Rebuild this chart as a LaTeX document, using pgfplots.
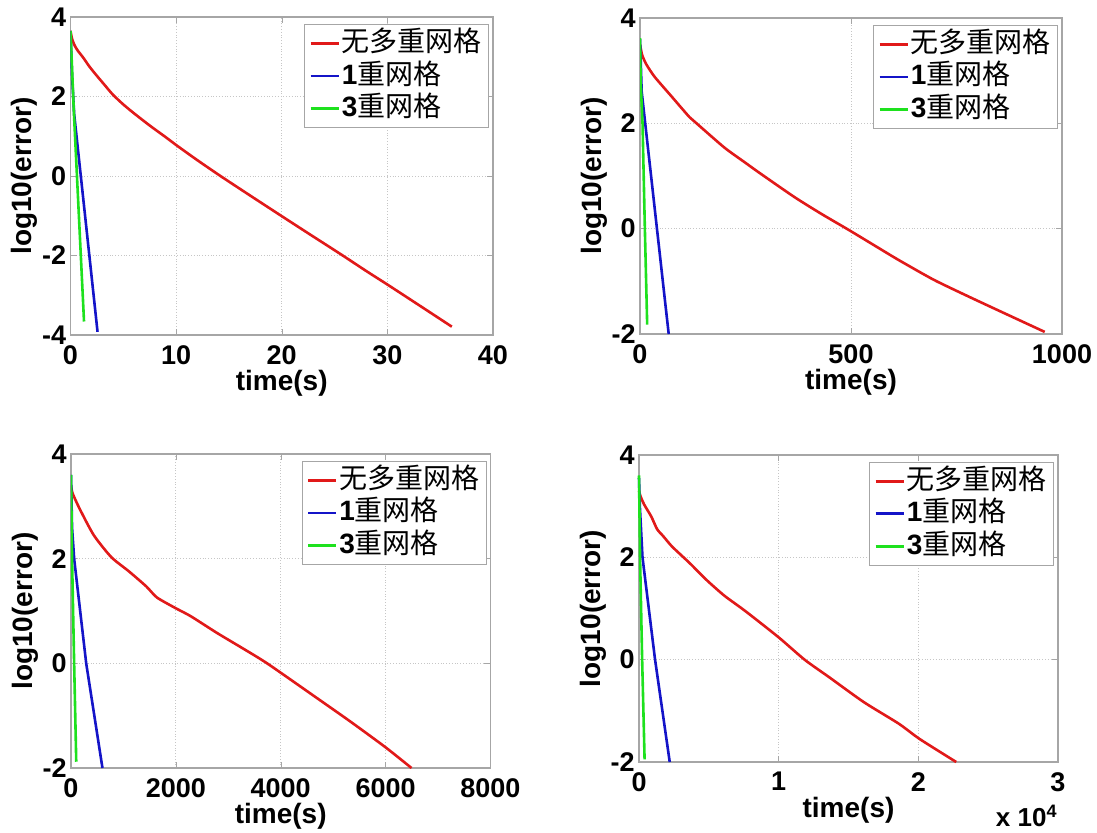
\documentclass[border=0pt]{standalone}
\usepackage{fontspec}
\setmainfont{Liberation Sans}
\newfontfamily\cjk{Noto Sans CJK SC}
\usepackage{pgfplots}
\pgfplotsset{compat=1.18}

\definecolor{mred}{RGB}{225,25,25}
\definecolor{mblue}{RGB}{20,20,200}
\definecolor{mgreen}{RGB}{30,225,30}

\pgfplotsset{
 sub/.style={
  scale only axis, anchor=south west, scaled x ticks=false, scaled y ticks=false,
  axis line style={gray!70, line width=0.6pt},
  grid=major, major grid style={gray!45, densely dotted, line width=0.5pt},
  tick align=inside, major tick length=3pt, tick style={gray!70},
  tick label style={font=\fontsize{13.5}{13.5}\selectfont\bfseries},
  yticklabel style={inner sep=1pt, xshift=-1pt},
  xticklabel style={inner sep=0pt, yshift=-5pt},
  every axis x label/.style={at={(axis description cs:0.5,0)}, anchor=north, yshift=-17.5pt, inner sep=0pt, font=\fontsize{14}{14}\selectfont\bfseries},
  every axis y label/.style={at={(axis description cs:-0.109,0.5)}, anchor=center, rotate=90, inner sep=0pt, font=\fontsize{14}{14}\selectfont\bfseries},
  xlabel={time(s)}, ylabel={log10(error)},
  legend style={at={(rel axis cs:0.9905,0.978)}, anchor=north east, draw=gray!70, line width=0.5pt,
    font=\fontsize{14}{14}\selectfont, inner xsep=2.3pt, inner ysep=1.5pt, row sep=0.25pt,
    nodes={inner xsep=1pt, inner ysep=1.5pt, text height=10.5pt, text depth=2.5pt},
    cells={anchor=west}},
  legend image code/.code={\draw[#1, line width=1.3pt] (0pt,0pt) -- (14pt,0pt);},
  every axis plot/.append style={line width=1.3pt},
 }
}

\begin{document}
\begin{tikzpicture}
\path[use as bounding box] (0,0) rectangle (548.5pt,-416pt);

% ---------- plot 1 ----------
\begin{axis}[sub, at={(35.25pt,-167.5pt)}, width=211.25pt, height=159pt,
  xmin=0, xmax=40, ymin=-4, ymax=4,
  xtick={0,10,20,30,40}, xticklabels={0,10,20,30,40},
  ytick={-4,-2,0,2,4}, yticklabels={-4,-2,0,2,4}]
\addplot[mred, smooth, tension=0.4] coordinates {(0,3.65)(0.15,3.45)(0.4,3.28)(0.7,3.15)(1.2,2.98)(1.8,2.75)(2.5,2.52)(3.2,2.3)(4,2.05)(5,1.8)(6,1.58)(7.5,1.27)(9,0.98)(10,0.78)(12,0.4)(14.2,0.0)(17,-0.49)(20,-1.01)(22.5,-1.44)(25.6,-1.97)(28,-2.39)(30,-2.73)(33,-3.25)(36.1,-3.79)};
\addplot[mblue] coordinates {(0,3.65)(0.15,2.5)(0.35,1.55)(2.56,-3.92)};
\addplot[mgreen] coordinates {(0,3.65)(0.32,1.6)(1.28,-3.66)};
\legend{{\cjk 无多重网格},{\bfseries 1}{\cjk 重网格},{\bfseries 3}{\cjk 重网格}}
\end{axis}

% ---------- plot 2 ----------
\begin{axis}[sub, at={(320pt,-167pt)}, width=211pt, height=158pt,
  xmin=0, xmax=1000, ymin=-2, ymax=4,
  xtick={0,500,1000}, xticklabels={0,500,1000},
  ytick={-2,0,2,4}, yticklabels={-2,0,2,4}]
\addplot[mred, smooth, tension=0.4] coordinates {(0,3.5)(5,3.3)(15,3.12)(35,2.88)(76,2.5)(117,2.12)(134,2.0)(200,1.54)(250,1.25)(283,1.06)(366,0.6)(430,0.28)(496,-0.03)(560,-0.34)(614,-0.6)(696,-0.97)(779,-1.29)(862,-1.6)(959,-1.96)};
\addplot[mblue] coordinates {(0,3.6)(4,2.6)(68,-2)};
\addplot[mgreen] coordinates {(0,3.62)(1.5,2.8)(6,2.0)(11.5,0)(17,-1.82)};
\legend{{\cjk 无多重网格},{\bfseries 1}{\cjk 重网格},{\bfseries 3}{\cjk 重网格}}
\end{axis}

% ---------- plot 3 ----------
\begin{axis}[sub, at={(35.5pt,-384pt)}, width=209.75pt, height=157pt,
  xmin=0, xmax=8000, ymin=-2, ymax=4,
  xtick={0,2000,4000,6000,8000}, xticklabels={0,2000,4000,6000,8000},
  ytick={-2,0,2,4}, yticklabels={-2,0,2,4}]
\addplot[mred, smooth, tension=0.4] coordinates {(0,3.4)(30,3.25)(167,2.95)(434,2.45)(768,2.03)(1102,1.76)(1436,1.47)(1637,1.26)(1985,1.06)(2285,0.9)(2786,0.58)(3320,0.26)(3755,-0.01)(4657,-0.64)(5325,-1.11)(5993,-1.6)(6494,-2)};
\addplot[mblue] coordinates {(0,3.6)(20,2.6)(60,2.0)(290,0)(600,-2)};
\addplot[mgreen] coordinates {(0,3.6)(20,2)(60,0)(100,-1.88)};
\legend{{\cjk 无多重网格},{\bfseries 1}{\cjk 重网格},{\bfseries 3}{\cjk 重网格}}
\end{axis}

% ---------- plot 4 ----------
\begin{axis}[sub, at={(319.5pt,-381pt)}, width=209.5pt, height=153.5pt, clip=false,
  xmin=0, xmax=30000, ymin=-2, ymax=4,
  xtick={0,10000,20000,30000}, xticklabels={0,1,2,3},
  ytick={-2,0,2,4}, yticklabels={-2,0,2,4}]
\addplot[mred, smooth, tension=0.4] coordinates {(0,3.3)(100,3.2)(374,3.03)(874,2.8)(1300,2.55)(1747,2.41)(2371,2.21)(3619,1.89)(4867,1.55)(6115,1.25)(7613,0.95)(9984,0.44)(11856,0)(13603,-0.34)(16100,-0.83)(18596,-1.25)(20093,-1.55)(22714,-2)};
\addplot[mblue] coordinates {(0,3.55)(60,3.0)(250,2.0)(1150,0)(2200,-2)};
\addplot[mgreen] coordinates {(0,3.6)(75,2)(225,0)(400,-1.95)};
\legend{{\cjk 无多重网格},{\bfseries 1}{\cjk 重网格},{\bfseries 3}{\cjk 重网格}}
\node[anchor=base east, inner sep=0pt, font=\fontsize{13}{13}\selectfont\bfseries] at (rel axis cs:1,0) [yshift=-32pt] {x 10\textsuperscript{\fontsize{9}{9}\selectfont 4}};
\end{axis}
\end{tikzpicture}
\end{document}
